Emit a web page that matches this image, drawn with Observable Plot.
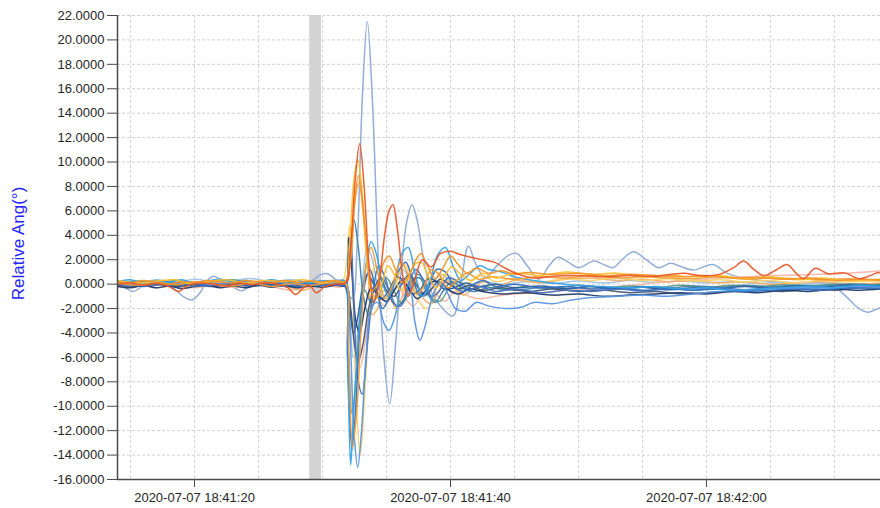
<!DOCTYPE html>
<html>
<head>
<meta charset="utf-8">
<script src="https://cdn.jsdelivr.net/npm/d3@7"></script>
<script src="https://cdn.jsdelivr.net/npm/@observablehq/plot@0.6"></script>
<style>
html,body{margin:0;padding:0;background:#fff;}
#chart{width:880px;height:508px;}
</style>
</head>
<body>
<div id="chart"></div>
<script>
// time in seconds after 2020-07-07 18:41:00, value in degrees
const yTicks = [-16,-14,-12,-10,-8,-6,-4,-2,0,2,4,6,8,10,12,14,16,18,20,22];
const xTickSecs = [20, 40, 60];
const xGridSecs = [15,20,25,30,35,40,45,50,55,60,65,70];
const xDomainSecs = [13.98, 73.6];
const bandSecs = [29.0, 29.92];
const yLabel = "Relative Ang(°)";

const seriesNames = ["A","B","C","D","E","F","G","H","I","J","K","L","M","N","O","P","Q","R"];
const seriesColors = ["#8eaad8","#e8582a","#f39325","#fdbf2d","#f8ad5e","#fbd36b","#ee9a3a","#f5b7a5","#46556e",
  "#35a2e6","#5a95e0","#2f6fbf","#3f86a6","#5e9a88","#1f3a6b","#4472c4","#9dc3e6","#2a5d9a"];

const sA = [[14.0,0.1],[14.6,-0.3],[15.2,-0.6],[15.9,-0.2],[16.6,0.1],[17.4,0],[18.3,-0.3],[19.1,-1.0],[19.8,-1.3],[20.5,-0.6],[21.0,0.3],[21.5,0.65],[22.1,0.3],[22.8,-0.1],[23.7,-0.55],[24.4,-0.1],[25.2,0.1],[26.0,0.2],[26.8,0],[27.6,-0.1],[28.4,0.1],[29.2,0.3],[29.8,0.75],[30.4,0.85],[31.0,0.4],[31.6,0.05],[32.0,-0.8],[32.35,-1.2],[32.7,3],[33.1,15],[33.5,21.5],[33.9,15],[34.4,1],[34.8,-6],[35.25,-9.8],[35.7,-5],[36.1,0.5],[36.6,5.2],[37.0,6.5],[37.4,5.2],[37.9,2.0],[38.5,-0.6],[39.3,-1.9],[40.2,-2.6],[40.8,0],[41.4,3.1],[42.0,1.6],[42.7,0.55],[43.7,1.6],[44.6,2.4],[45.2,2.5],[46.0,1.5],[46.9,0.4],[47.7,1.5],[48.4,2.2],[49.2,1.8],[50.0,1.35],[51.2,1.9],[52.0,1.6],[52.7,1.35],[53.5,2.1],[54.3,2.65],[55.3,2.0],[56.25,1.35],[57.2,1.7],[58.1,1.4],[59.0,1.15],[60.5,1.6],[61.6,0.9],[62.8,0.5],[64.2,0.3],[66.0,0.15],[68.0,0.1],[69.7,0],[70.8,-0.9],[71.8,-1.9],[72.6,-2.3],[73.2,-2.1],[73.6,-1.9]];
const sB = [[14.0,0],[15.0,0.1],[16.0,-0.1],[17.0,0.05],[18.0,-0.2],[18.75,-0.6],[19.5,-0.1],[20.5,0.1],[21.5,0],[22.5,-0.15],[23.5,0.1],[24.5,-0.05],[25.5,0.1],[26.5,0],[27.3,-0.3],[27.9,-0.85],[28.5,-0.3],[29.0,-0.1],[29.5,-0.7],[30.2,-0.2],[31.0,0],[31.8,0.1],[32.2,3],[32.55,8.5],[32.9,11.5],[33.25,8],[33.6,2],[34.0,-1.5],[34.4,0],[34.85,4],[35.2,6.0],[35.5,6.5],[35.85,4.5],[36.3,0.5],[36.7,-1.0],[37.2,0.3],[37.8,2.0],[38.5,1.4],[39.2,2.5],[40.0,2.7],[40.8,2.4],[41.6,2.2],[42.5,2.0],[43.4,1.8],[44.3,1.3],[45.2,0.85],[46.5,0.5],[48,0.65],[50,0.7],[52,0.6],[54,0.7],[56,0.65],[58.2,0.9],[59.5,0.7],[61,0.8],[62.2,1.4],[62.9,1.9],[63.7,1.2],[64.5,0.7],[65.5,1.2],[66.3,1.6],[67.0,0.9],[67.6,0.45],[68.5,1.3],[69.5,0.85],[70.2,0.9],[70.9,0.9],[71.5,0.6],[72.0,0.45],[72.8,0.7],[73.4,0.95],[73.6,0.9]];
const sC = [[14,0.2],[15,0.1],[16,0.3],[17,0.15],[18,0.0],[19,0.2],[20,0.1],[21,0.3],[22,0.2],[23,0.1],[24,0.3],[25,0.2],[26,0.1],[27,0.3],[28,0.15],[29,0.25],[30,0.2],[31,0.3],[31.8,0.2],[32.2,2],[32.5,6.5],[32.8,8.9],[33.1,7],[33.5,2.5],[33.9,-0.5],[34.3,0],[34.8,1.8],[35.2,2.3],[35.7,1.2],[36.2,0.15],[36.8,0.8],[37.3,2.0],[37.7,2.5],[38.2,1.5],[38.8,0.45],[39.4,1.3],[40.0,2.3],[40.6,1.6],[41.3,0.9],[42,1.3],[43,0.9],[44,1.1],[45,0.8],[46,0.95],[48,0.8],[50,0.9],[52,0.7],[54,0.8],[56,0.7],[58,0.6],[60,0.7],[62,0.5],[64,0.55],[66,0.4],[68,0.5],[70,0.3],[72,0.4],[73.6,0.35]];
const sD = [[14,0.3],[15.5,0.1],[17,0.25],[18.5,0.35],[19.5,0.05],[21,0.2],[22.5,0.35],[24,0.1],[25.5,0.3],[27,0.2],[28.5,0.35],[30,0.1],[31,0.3],[31.8,0.2],[32.1,3],[32.45,8.5],[32.75,10.2],[33.05,8],[33.4,3],[33.8,-0.5],[34.2,-1.2],[34.7,0.2],[35.1,1.5],[35.6,0.8],[36.1,-0.5],[36.7,0.5],[37.2,1.6],[37.7,1.8],[38.3,0.6],[38.9,-0.3],[39.5,0.6],[40.1,1.4],[40.8,0.8],[41.6,0.3],[42.5,0.9],[43.5,0.5],[45,0.9],[47,0.7],[49,1.0],[51,0.8],[53,0.9],[55,0.6],[57,0.75],[59,0.6],[61,0.7],[63,0.45],[65,0.6],[67,0.35],[69,0.5],[71,0.3],[73.6,0.4]];
const sE = [[14,0.0],[15.5,0.2],[17,-0.1],[18.5,0.1],[20,-0.2],[21.5,0.15],[23,-0.1],[24.5,0.2],[26,0.0],[27.5,-0.3],[28.5,-0.5],[29.5,-0.1],[30.5,0.1],[31.8,0],[32.2,2.5],[32.55,7],[32.85,8.3],[33.15,6],[33.55,1],[33.9,-2.5],[34.3,-2],[34.8,-0.5],[35.3,-1.2],[35.8,-2.0],[36.3,-0.8],[36.8,0.6],[37.3,0.2],[37.9,-1.2],[38.5,-1.6],[39.1,-0.5],[39.7,0.3],[40.3,-0.3],[41,-0.9],[41.8,-0.3],[42.6,0.2],[43.6,-0.2],[45,0.3],[47,0.1],[49,0.4],[51,0.5],[53,0.3],[55,0.4],[57,0.2],[59,0.3],[61,0.1],[63,0.2],[65,0],[67,0.1],[69,0.2],[71,0],[73.6,0.1]];
const sF = [[14,-0.1],[15.5,0.1],[17,0.2],[18.5,0],[20,0.15],[21.5,-0.1],[23,0.2],[24.5,0],[26,0.1],[27.5,0.25],[29,0],[30.5,0.2],[31.5,0.1],[31.9,2],[32.1,4.8],[32.35,0],[32.65,-10],[32.95,-14],[33.3,-9],[33.7,-2],[34.1,1.5],[34.6,0.5],[35.2,-1.0],[35.8,0.5],[36.4,1.6],[37,0.4],[37.6,-1.5],[38.2,-2.0],[38.8,-0.6],[39.4,0.8],[40,0.5],[40.8,-0.4],[41.6,0.2],[42.5,0.7],[43.5,0.2],[45,0.5],[47,0.2],[49,0.45],[51,0.3],[53,0.55],[55,0.3],[57,0.45],[59,0.25],[61,0.35],[63,0.2],[65,0.3],[67,0.1],[69,0.3],[71,0.2],[73.6,0.25]];
const sG = [[14,0.1],[15.5,-0.1],[17,0.15],[18.5,-0.05],[20,0.2],[21.5,0],[23,-0.15],[24.5,0.1],[26,-0.2],[27.5,0.05],[29,-0.1],[30.5,0.1],[31.8,0],[32.0,-4],[32.35,-13.4],[32.7,-10],[33.0,-4],[33.4,1.5],[33.8,3],[34.3,1],[34.9,-1.2],[35.5,0],[36.1,1.8],[36.7,0.8],[37.3,-0.8],[37.9,-0.2],[38.5,1.2],[39.1,0.8],[39.8,-0.3],[40.5,0.3],[41.3,0.9],[42.2,0.4],[43.2,0.6],[45,0.4],[47,0.6],[49,0.5],[51,0.7],[53,0.5],[55,0.6],[57,0.5],[59,0.45],[61,0.6],[63,0.4],[65,0.5],[67,0.45],[69,0.35],[71,0.45],[73.6,0.3]];
const sH = [[14,-0.2],[15.5,0],[17,-0.3],[18.5,-0.1],[20,-0.3],[21.5,-0.05],[23,-0.25],[24.5,0],[26,-0.2],[27.5,-0.5],[28.5,-0.3],[30,-0.1],[31.5,-0.2],[31.9,0.5],[32.1,3.5],[32.35,0],[32.65,-5],[32.95,-6.8],[33.3,-5],[33.7,-2],[34.2,-0.8],[34.8,-1.8],[35.3,-1.2],[35.9,-0.2],[36.5,-1.2],[37.1,-1.8],[37.7,-0.8],[38.3,0.2],[38.9,-0.8],[39.6,-1.4],[40.3,-0.6],[41.2,-0.9],[42.2,-1.2],[43.5,-1.0],[45,-0.8],[47,-0.7],[49,-0.5],[51,-0.4],[53,-0.2],[55,0],[57,0.2],[59,0.3],[61,0.5],[63,0.6],[65,0.7],[67,0.75],[69,0.8],[71,0.9],[72.5,1.0],[73.6,1.1]];
const sI = [[14,-0.1],[15.5,-0.2],[17,0],[18.5,-0.2],[20,-0.05],[21.5,-0.2],[23,0],[24.5,-0.15],[26,-0.05],[27.5,-0.2],[29,0],[30.5,-0.1],[31.8,-0.1],[32.2,-2],[32.5,-5],[32.8,-6.3],[33.15,-5],[33.6,-2],[34.0,-0.5],[34.5,0.5],[35.0,-0.5],[35.6,-1.0],[36.2,0],[36.8,0.8],[37.4,-0.2],[38.0,-0.9],[38.6,-0.3],[39.2,0.4],[39.9,0],[40.6,-0.4],[41.5,-0.1],[42.5,-0.5],[44,-0.3],[46,-0.6],[48,-0.4],[50,-0.6],[52,-0.5],[54,-0.7],[56,-0.6],[58,-0.8],[60,-0.7],[62,-0.6],[64,-0.5],[66,-0.6],[68,-0.4],[70,-0.5],[72,-0.3],[73.6,-0.35]];
const sJ = [[14,0.2],[15,0.35],[16,0.1],[17,0.3],[18,0.15],[19,0.35],[20,0.1],[21,0.25],[22,0.4],[23,0.2],[24,0.3],[25,0.15],[26,0.35],[27,0.2],[28,0.3],[29,0.1],[30,0.3],[31,0.2],[31.7,0.3],[32.0,-8],[32.2,-14.8],[32.4,-11],[32.7,-6],[33.0,-2],[33.4,1.5],[33.8,3.5],[34.2,2.5],[34.7,0],[35.2,-1.0],[35.7,0.5],[36.2,2.5],[36.7,3.0],[37.2,1.0],[37.8,-1.0],[38.4,0.3],[39.0,2.4],[39.6,3.0],[40.2,1.5],[40.8,0.3],[41.5,0.85],[42.3,1.5],[43,1.2],[44,1.0],[45,0.6],[46.5,0.3],[48,0.1],[50,-0.1],[52,-0.2],[54,-0.3],[56,-0.2],[58,-0.4],[60,-0.3],[62,-0.5],[64,-0.4],[66,-0.3],[68,-0.2],[70,-0.3],[72,-0.1],[73.6,-0.2]];
const sK = [[14,0.1],[15.5,-0.1],[17,0.2],[18.5,0],[20,0.15],[21.5,-0.05],[23,0.2],[24.5,0.05],[26,0.25],[27.5,0],[29,0.15],[30.5,0.05],[31.8,0.1],[32.1,-3],[32.45,-12],[32.75,-15],[33.05,-12],[33.4,-6],[33.8,-2],[34.3,-1.5],[34.8,-3.2],[35.2,-3.8],[35.7,-2.5],[36.3,0.5],[36.8,0],[37.2,-3],[37.6,-4.6],[38.0,-3.5],[38.6,-1],[39.2,0.2],[39.8,-0.8],[40.4,-2.0],[41.2,-2.2],[42,-1.5],[43,-1.8],[44.5,-2.0],[45.5,-1.9],[46.5,-1.5],[48,-1.6],[49.5,-1.3],[51,-1.1],[53,-1.0],[55,-0.9],[57,-1.0],[59,-0.8],[61,-0.6],[63,-0.5],[65,-0.4],[67,-0.3],[69,-0.35],[71,-0.2],[73.6,-0.25]];
const sL = [[14,-0.1],[15,0.1],[16,-0.2],[17,0],[18,-0.1],[19,0.1],[20,-0.2],[21,0],[22,-0.1],[23,0.1],[24,-0.15],[25,0.05],[26,-0.1],[27,0.1],[28,-0.2],[29,0],[30,-0.1],[31,0.1],[31.7,0],[31.95,-6],[32.3,-13.5],[32.6,-10],[32.9,-4],[33.3,0],[33.7,1.2],[34.2,-0.5],[34.7,-2.0],[35.3,-0.8],[35.9,1.0],[36.5,1.8],[37.1,0.2],[37.7,-1.0],[38.3,-0.2],[38.9,1.2],[39.6,1.0],[40.3,-0.2],[41,-0.6],[41.8,0],[42.6,0.3],[43.5,-0.2],[45,0],[47,-0.3],[49,-0.2],[51,-0.4],[53,-0.3],[55,-0.5],[57,-0.4],[59,-0.5],[61,-0.4],[63,-0.6],[65,-0.5],[67,-0.4],[69,-0.5],[71,-0.3],[73.6,-0.35]];
const sM = [[14,0.05],[15.5,-0.1],[17,0.1],[18.5,-0.05],[20,0.15],[21.5,0],[23,0.1],[24.5,-0.1],[26,0.05],[27.5,0.15],[29,-0.05],[30.5,0.1],[31.8,0],[32.1,2.5],[32.45,5.3],[32.8,3],[33.2,-1],[33.6,-2.5],[34.1,-1.2],[34.6,0.5],[35.2,-0.5],[35.8,-1.8],[36.4,-1.2],[37,0.3],[37.6,0.5],[38.2,-0.8],[38.8,-1.5],[39.4,-0.6],[40.1,0.2],[40.9,-0.3],[41.8,-0.6],[43,-0.3],[45,-0.5],[47,-0.3],[49,-0.4],[51,-0.2],[53,-0.35],[55,-0.2],[57,-0.3],[59,-0.15],[61,-0.25],[63,-0.1],[65,-0.2],[67,-0.1],[69,-0.15],[71,0],[73.6,-0.1]];
const sN = [[14,0.05],[15.5,0.25],[17,0.1],[18.5,0.3],[20,0.05],[21.5,0.2],[23,0.35],[24.5,0.1],[26,0.2],[27.5,0.05],[29,0.25],[30.5,0.1],[31.7,0.15],[32.0,-5],[32.3,-10.6],[32.6,-8],[32.9,-3],[33.3,-0.5],[33.8,-1.5],[34.4,-0.8],[35,0.5],[35.6,-0.6],[36.2,-1.6],[36.8,-0.6],[37.4,0.8],[38,0.2],[38.6,-1.2],[39.2,-1.4],[39.9,-0.3],[40.7,0.2],[41.5,-0.4],[42.5,-0.2],[44,-0.4],[46,-0.2],[48,-0.35],[50,-0.1],[52,-0.3],[54,-0.15],[56,-0.3],[58,-0.1],[60,-0.25],[62,-0.1],[64,-0.2],[66,-0.05],[68,-0.15],[70,0],[72,-0.1],[73.6,0]];
const sO = [[14,-0.2],[15,-0.3],[16,-0.1],[17,-0.3],[18,-0.15],[19,-0.35],[20,-0.2],[21,-0.1],[22,-0.3],[23,-0.15],[24,-0.3],[25,-0.1],[26,-0.25],[27,-0.1],[28,-0.3],[29,-0.15],[30,-0.25],[31,-0.1],[31.8,-0.1],[32.05,3.8],[32.3,1],[32.6,-3],[32.9,-4],[33.3,-2],[33.8,-0.3],[34.4,-1.0],[35,-1.4],[35.6,-0.5],[36.2,0.3],[36.8,-0.4],[37.4,-1.2],[38,-0.6],[38.6,0.2],[39.2,0.1],[39.9,-0.5],[40.6,-0.8],[41.5,-0.4],[42.5,-0.6],[44,-0.8],[46,-0.7],[48,-0.9],[50,-0.8],[52,-1.0],[54,-0.9],[56,-0.8],[58,-0.7],[60,-0.8],[62,-0.6],[64,-0.7],[66,-0.5],[68,-0.6],[70,-0.4],[72,-0.5],[73.6,-0.4]];
const sP = [[14,0],[15,-0.15],[16,0.1],[17,-0.1],[18,0.15],[19,-0.05],[20,0.1],[21,-0.15],[22,0.05],[23,-0.1],[24,0.15],[25,-0.05],[26,0.1],[27,-0.15],[28,0.05],[29,-0.1],[30,0.1],[31,-0.05],[31.8,0],[32.0,2.5],[32.2,4],[32.45,-2],[32.8,-8],[33.1,-9],[33.5,-5],[33.9,-1],[34.4,1.5],[34.9,0.5],[35.5,-1.5],[36.1,-1.8],[36.7,0],[37.3,1.2],[37.9,0.3],[38.5,-1.0],[39.1,-0.6],[39.8,0.5],[40.6,0.2],[41.4,-0.5],[42.3,-0.2],[43.5,-0.6],[45,-0.4],[47,-0.7],[49,-0.5],[51,-0.6],[53,-0.4],[55,-0.55],[57,-0.35],[59,-0.5],[61,-0.3],[63,-0.45],[65,-0.3],[67,-0.4],[69,-0.25],[71,-0.35],[73.6,-0.2]];
const sQ = [[14,0.3],[15.5,0.1],[17,0.35],[18.5,0.15],[20,0.4],[21.5,0.2],[23,0.3],[24.5,0.45],[26,0.2],[27.5,0.35],[29,0.15],[30.5,0.3],[31.8,0.2],[32.1,-2],[32.4,-6],[32.75,-4],[33.1,0],[33.5,3],[33.9,2],[34.4,-0.5],[35,-1.5],[35.6,-0.3],[36.2,1.2],[36.8,0.5],[37.4,-0.8],[38,-1.0],[38.6,0],[39.2,0.8],[39.9,0.3],[40.6,-0.5],[41.5,-0.2],[42.5,0.2],[44,0],[46,0.2],[48,0.05],[50,0.25],[52,0.1],[54,0.3],[56,0.15],[58,0.25],[60,0.1],[62,0.2],[64,0.05],[66,0.15],[68,0],[70,0.1],[72,0],[73.6,0.05]];
const sR = [[14,0.1],[15.5,-0.05],[17,0.15],[18.5,-0.1],[20,0.05],[21.5,-0.1],[23,0.1],[24.5,-0.1],[26,0.05],[27.5,-0.05],[29,0.1],[30.5,-0.1],[31.8,0],[32.1,-1.5],[32.4,-4],[32.7,-3],[33.1,-0.5],[33.5,0.8],[34,0],[34.6,-1.2],[35.2,-0.5],[35.8,0.6],[36.4,0.2],[37,-0.8],[37.6,-0.5],[38.2,0.4],[38.8,0.3],[39.5,-0.4],[40.3,-0.3],[41.2,0.1],[42.2,-0.2],[43.5,0],[45,-0.3],[47,-0.15],[49,-0.35],[51,-0.2],[53,-0.4],[55,-0.25],[57,-0.45],[59,-0.3],[61,-0.35],[63,-0.2],[65,-0.3],[67,-0.15],[69,-0.25],[71,-0.1],[73.6,-0.15]];

// drawing order: back to front
const seriesData = [sA,sQ,sH,sE,sF,sN,sM,sR,sI,sO,sP,sL,sK,sJ,sG,sD,sC,sB];
const drawOrder = ["A","Q","H","E","F","N","M","R","I","O","P","L","K","J","G","D","C","B"];

const BASE = Date.UTC(2020, 6, 7, 18, 41, 0);
const toDate = s => new Date(BASE + Math.round(s * 1000));

const rows = [];
seriesData.forEach((arr, i) => arr.forEach(([t, v]) => rows.push({time: toDate(t), value: v, series: drawOrder[i]})));

const fmtTime = d3.utcFormat("%Y-%m-%d %H:%M:%S");
const axisColor = "#4a4a4a";

const chart = Plot.plot({
  width: 880,
  height: 508,
  marginLeft: 117,
  marginRight: 0,
  marginTop: 15,
  marginBottom: 29,
  style: {fontFamily: "'Liberation Sans', Arial, sans-serif", fontSize: "13px", color: "#262626", background: "#fff", overflow: "visible"},
  x: {type: "utc", domain: xDomainSecs.map(toDate)},
  y: {domain: [yTicks[0], yTicks[yTicks.length - 1]]},
  color: {domain: seriesNames, range: seriesColors},
  marks: [
    Plot.rect([bandSecs], {x1: d => toDate(d[0]), x2: d => toDate(d[1]), y1: yTicks[0], y2: yTicks[yTicks.length - 1], fill: "#d3d3d3"}),
    Plot.ruleY(yTicks.slice(1), {stroke: "#d0d0d0", strokeDasharray: "3,2", strokeWidth: 1}),
    Plot.ruleX(xGridSecs.map(toDate), {stroke: "#d6d6d6", strokeDasharray: "3,2", strokeWidth: 1}),
    Plot.line(rows, {x: "time", y: "value", z: "series", stroke: "series", curve: "catmull-rom", strokeWidth: 1.5, strokeOpacity: 0.95}),
    Plot.ruleX([toDate(xDomainSecs[0])], {stroke: axisColor, strokeWidth: 1.5}),
    Plot.ruleY([yTicks[0]], {stroke: axisColor, strokeWidth: 1.5}),
    Plot.axisY(yTicks, {tickFormat: d => d.toFixed(4), tickSize: 10, tickPadding: 3, fontSize: 13, label: null, stroke: axisColor}),
    Plot.axisX(xTickSecs.map(toDate), {tickFormat: fmtTime, tickSize: 8, tickPadding: 5, fontSize: 13, label: null, stroke: axisColor}),
    Plot.text([yLabel], {frameAnchor: "left", dx: -99, dy: -4, rotate: -90, textAnchor: "middle", fill: "#2323ff", fontSize: 17})
  ]
});
document.getElementById("chart").appendChild(chart);
</script>
</body>
</html>
